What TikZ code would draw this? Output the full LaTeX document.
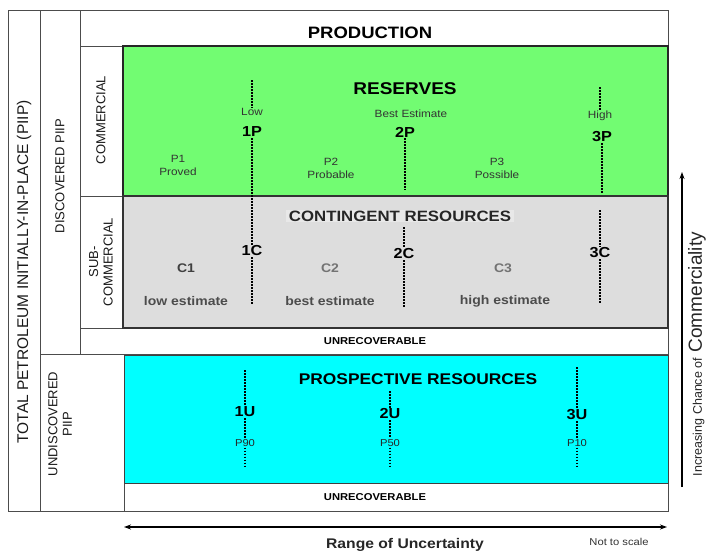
\documentclass[tikz,border=0pt]{standalone}
\usepackage{fontspec}
\setmainfont{Liberation Sans}
\newfontfamily\wide{Liberation Sans}[FakeStretch=1.12]
\usetikzlibrary{arrows.meta}

\definecolor{resgreen}{RGB}{114,252,114}
\definecolor{contgray}{RGB}{221,221,221}
\definecolor{contband}{RGB}{232,232,232}
\definecolor{prospcyan}{RGB}{0,255,255}

\tikzset{
  frame/.style={draw=black!70, line width=0.9pt},
  cls/.style={rotate=90, align=center, text=black!90, font=\fontsize{13}{14.5}\selectfont},
  title/.style={font=\wide\bfseries\fontsize{16.5}{18}\selectfont},
  est/.style={inner sep=1pt, font=\wide\bfseries\fontsize{14.5}{16}\selectfont},
  lbl/.style={inner sep=1pt, align=center, text=black!80, font=\wide\fontsize{10.5}{13}\selectfont},
  cnt/.style={text=black!70, font=\wide\bfseries\fontsize{12.5}{14}\selectfont},
  unrec/.style={font=\wide\bfseries\fontsize{10}{12}\selectfont},
  lim/.style={black, line width=2.4pt, dash pattern=on 1.5pt off 1.5pt},
}

\begin{document}
\begin{tikzpicture}[x=1pt,y=-1pt]
  \useasboundingbox (0,0) rectangle (707,552);

  % Classes
  \draw[frame] (8,10) rectangle (668,511);
  \draw[frame] (40,10) -- (40,511);
  \draw[frame] (80,10) -- (80,354);
  \draw[frame] (80,46) -- (668,46);
  \draw[frame] (80,196) -- (123,196);
  \draw[frame] (80,328) -- (668,328);
  \draw[frame] (40,354) -- (668,354);
  \draw[frame] (124,354) -- (124,511);
  \draw[frame] (124,483) -- (668,483);

  % Resources
  \filldraw[fill=resgreen, draw=black!85, line width=1.8pt] (123,46) rectangle (668,196);
  \filldraw[fill=contgray, draw=black!80, line width=1.6pt] (123,196) rectangle (668,328);
  \filldraw[fill=prospcyan, draw=black!75, line width=1pt] (124,355) rectangle (668,483);

  \node[cls, font=\fontsize{15.5}{17}\selectfont] (piip) at (24,272) {TOTAL PETROLEUM INITIALLY-IN-PLACE (PIIP)};
  \node[cls] (disc) at (60,176) {DISCOVERED PIIP};
  \node[cls] (undisc) at (60,424) {UNDISCOVERED\\PIIP};
  \node[cls] (comm) at (101,120) {COMMERCIAL};
  \node[cls] (subcomm) at (101,262) {SUB-\\COMMERCIAL};

  \node[title] (prod) at (370,33) {PRODUCTION};
  \node[title, font=\wide\bfseries\fontsize{17}{19}\selectfont] (res) at (405,89) {RESERVES};
  \node[title, fill=contband, text=black!85, inner ysep=1pt, font=\wide\bfseries\fontsize{15}{17}\selectfont] (cont) at (400,216) {CONTINGENT RESOURCES};
  \node[title, font=\wide\bfseries\fontsize{15.5}{17}\selectfont] (prosp) at (418,379) {PROSPECTIVE RESOURCES};
  \node[unrec] (unrec1) at (375,341) {UNRECOVERABLE};
  \node[unrec] (unrec2) at (375,497) {UNRECOVERABLE};

  % Reserves
  \node[lbl] (low) at (252,112) {Low};
  \node[est] (p1) at (252,132) {1P};
  \node[lbl] (best) at (411,114) {Best Estimate};
  \node[est] (p2) at (405,132) {2P};
  \node[lbl] (high) at (600,116) {High};
  \node[est] (p3) at (602,137) {3P};
  \node[lbl] (proved) at (178,165) {P1\\Proved};
  \node[lbl] (probable) at (331,168) {P2\\Probable};
  \node[lbl] (possible) at (497,168) {P3\\Possible};

  % Contingent
  \node[est] (c1) at (252,251) {1C};
  \node[est] (c2) at (404,254) {2C};
  \node[est] (c3) at (600,253) {3C};
  \node[cnt, text=black!75] (cl1) at (186,268) {C1};
  \node[cnt, text=black!55] (cl2) at (330,268) {C2};
  \node[cnt, text=black!55] (cl3) at (503,268) {C3};
  \node[cnt] (lowest) at (186,301) {low estimate};
  \node[cnt] (bestest) at (330,301) {best estimate};
  \node[cnt] (highest) at (505,301) {high estimate};

  % Prospective
  \node[est] (u1) at (245,412) {1U};
  \node[est] (u2) at (390,414) {2U};
  \node[est] (u3) at (577,415) {3U};
  \node[lbl, text=black!85, font=\wide\fontsize{10}{12}\selectfont] (p90) at (245,443) {P90};
  \node[lbl, text=black!85, font=\wide\fontsize{10}{12}\selectfont] (p50) at (390,443) {P50};
  \node[lbl, text=black!85, font=\wide\fontsize{10}{12}\selectfont] (p10) at (577,443) {P10};

  % Limits
  \coordinate (t1) at (252,80);
  \coordinate (e1) at (252,304);
  \coordinate (b2) at (405,190);
  \coordinate (t2) at (404,227);
  \coordinate (e2) at (404,308);
  \coordinate (t3) at (600,87);
  \coordinate (b3) at (602,193);
  \coordinate (s3) at (600,210);
  \coordinate (e3) at (600,303);
  \draw[lim] (t1) -- (low.north);
  \draw[lim] (p1.south) -- (c1.north);
  \draw[lim] (c1.south) -- (e1);
  \draw[lim] (p2.south) -- (b2);
  \draw[lim] (t2) -- (c2.north);
  \draw[lim] (c2.south) -- (e2);
  \draw[lim] (t3) -- (high.north);
  \draw[lim] (p3.south) -- (b3);
  \draw[lim] (s3) -- (c3.north);
  \draw[lim] (c3.south) -- (e3);

  \coordinate (ut1) at (245,370);
  \coordinate (ue1) at (245,467);
  \coordinate (ut2) at (390,391);
  \coordinate (ue2) at (390,468);
  \coordinate (ut3) at (577,367);
  \coordinate (ue3) at (577,467);
  \draw[lim] (ut1) -- (u1.north);
  \draw[lim] (u1.south) -- (p90.north);
  \draw[lim] (p90.south) -- (ue1);
  \draw[lim] (ut2) -- (u2.north);
  \draw[lim] (u2.south) -- (p50.north);
  \draw[lim] (p50.south) -- (ue2);
  \draw[lim] (ut3) -- (u3.north);
  \draw[lim] (u3.south) -- (p10.north);
  \draw[lim] (p10.south) -- (ue3);

  % Axes
  \coordinate (ul) at (124,527);
  \coordinate (ur) at (667,527);
  \draw[{Stealth[length=7pt,width=5pt]}-{Stealth[length=7pt,width=5pt]}, line width=1.3pt] (ul) -- (ur);
  \node[font=\wide\bfseries\fontsize{14}{16}\selectfont, text=black!85] (range) at (405,545) {Range of Uncertainty};
  \node[font=\wide\fontsize{10}{12}\selectfont, text=black!80] (scale) at (619,542) {Not to scale};

  \coordinate (cb) at (682,487);
  \coordinate (ct) at (682,172);
  \draw[-{Stealth[length=7pt,width=5pt]}, line width=1.2pt] (cb) -- (ct);
  \node[rotate=90, anchor=south, inner sep=0pt, text=black!85] (incr) at (706,354)
    {\fontsize{12.5}{14}\selectfont Increasing Chance of\, \fontsize{19}{21}\selectfont Commerciality};
\end{tikzpicture}
\end{document}
